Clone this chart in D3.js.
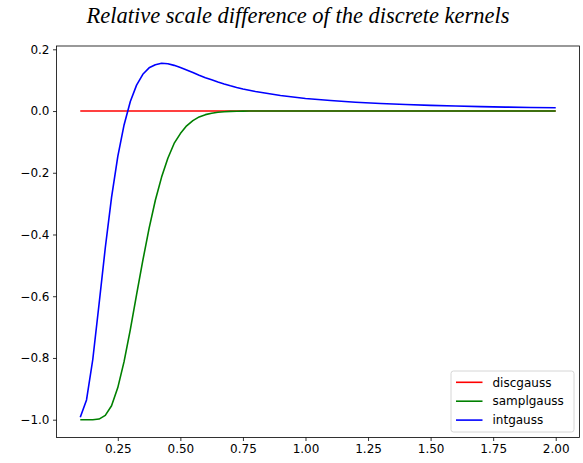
<!DOCTYPE html>
<html>
<head>
<meta charset="utf-8">
<script src="https://cdn.jsdelivr.net/npm/d3@7"></script>
<style>
  html, body { margin: 0; padding: 0; background: #fff; }
  svg { display: block; }
</style>
</head>
<body>
<svg id="chart" width="583" height="463"></svg>
<script>
// ---- data ----
const title = "Relative scale difference of the discrete kernels";
const scales = [0.1, 0.125, 0.15, 0.175, 0.2, 0.225, 0.25, 0.275, 0.3, 0.325, 0.35, 0.375, 0.4, 0.425, 0.45, 0.475,
  0.5, 0.525, 0.55, 0.575, 0.6, 0.625, 0.65, 0.675, 0.7, 0.725, 0.75, 0.775, 0.8,
  0.9, 1.0, 1.1, 1.2, 1.3, 1.4, 1.5, 1.6, 1.7, 1.8, 1.9, 2.0];
const discgauss = [0, 0, 0, 0, 0, 0, 0, 0, 0, 0, 0, 0, 0, 0, 0, 0,
  0, 0, 0, 0, 0, 0, 0, 0, 0, 0, 0, 0, 0,
  0, 0, 0, 0, 0, 0, 0, 0, 0, 0, 0, 0];
const samplgauss = [-1.0, -1.0, -1.0, -0.998, -0.986, -0.955, -0.896, -0.812, -0.708, -0.595, -0.484, -0.380, -0.289, -0.214, -0.153, -0.105,
  -0.073, -0.048, -0.031, -0.019, -0.0117, -0.007, -0.004, -0.0022, -0.0012, -0.0006, -0.0003, -0.0001, 0.0,
  0, 0, 0, 0, 0, 0, 0, 0, 0, 0, 0, 0];
const intgauss = [-0.992, -0.936, -0.805, -0.626, -0.443, -0.280, -0.147, -0.045, 0.031, 0.084, 0.119, 0.140, 0.150, 0.155, 0.153, 0.148,
  0.141, 0.133, 0.125, 0.116, 0.108, 0.101, 0.094, 0.0876, 0.0817, 0.0763, 0.0714, 0.0671, 0.0631,
  0.0502, 0.0408, 0.0339, 0.0285, 0.0244, 0.0210, 0.0184, 0.0161, 0.0143, 0.0128, 0.0115, 0.0104];
const seriesNames = ["discgauss", "samplgauss", "intgauss"];
const seriesColors = ["#ff0000", "#008000", "#0000ff"];
const xTicks = [0.25, 0.5, 0.75, 1.0, 1.25, 1.5, 1.75, 2.0];
const yTicks = [0.2, 0.0, -0.2, -0.4, -0.6, -0.8, -1.0];

// ---- layout ----
const svg = d3.select("#chart");
const mLeft = 56.5, mRight = 579.5, mTop = 46, mBottom = 437.5;

const x = d3.scaleLinear().domain([0.005, 2.095]).range([mLeft, mRight]);
const y = d3.scaleLinear().domain([-1.0577, 0.2107]).range([mBottom, mTop]);

// title
svg.append("text")
  .attr("x", 298).attr("y", 22.5)
  .attr("text-anchor", "middle")
  .style("font-family", "'Liberation Serif', 'Times New Roman', serif")
  .style("font-style", "italic")
  .style("font-size", "22.5px")
  .attr("fill", "#000")
  .text(title);

// lines
const allSeries = [discgauss, samplgauss, intgauss];
const line = d3.line().x((d, i) => x(scales[i])).y(d => y(d));
const plot = svg.append("g");
allSeries.forEach((vals, k) => {
  plot.append("path")
    .datum(vals)
    .attr("d", line)
    .attr("fill", "none")
    .attr("stroke", seriesColors[k])
    .attr("stroke-width", 1.6)
    .attr("stroke-linejoin", "round")
    .attr("stroke-linecap", "butt");
});

// axes
const fmtY = v => (v < 0 ? "\u2212" : "") + Math.abs(v).toFixed(1);
const xAxis = d3.axisBottom(x).tickValues(xTicks).tickFormat(d3.format(".2f")).tickSize(3.5).tickPadding(3.5);
const yAxis = d3.axisLeft(y).tickValues(yTicks).tickFormat(fmtY).tickSize(3.5).tickPadding(3.5);

const gx = svg.append("g").attr("transform", `translate(0,${mBottom})`).call(xAxis);
const gy = svg.append("g").attr("transform", `translate(${mLeft},0)`).call(yAxis);
[gx, gy].forEach(g => {
  g.select(".domain").remove();
  g.selectAll(".tick line").attr("stroke", "#000").attr("stroke-width", 0.8);
  g.selectAll(".tick text")
    .attr("fill", "#000")
    .style("font-family", "'DejaVu Sans', sans-serif")
    .style("font-size", "12px");
});

// frame
svg.append("rect")
  .attr("x", mLeft).attr("y", mTop)
  .attr("width", mRight - mLeft).attr("height", mBottom - mTop)
  .attr("fill", "none").attr("stroke", "#000").attr("stroke-width", 0.8);

// legend
const lg = svg.append("g");
lg.append("rect")
  .attr("x", 451).attr("y", 371).attr("width", 123).attr("height", 61)
  .attr("rx", 2.5).attr("ry", 2.5)
  .attr("fill", "#fff").attr("fill-opacity", 0.8)
  .attr("stroke", "#cccccc").attr("stroke-width", 0.8);
seriesNames.forEach((name, k) => {
  const yy = 382.3 + k * 18.9;
  lg.append("line")
    .attr("x1", 456).attr("x2", 482.5).attr("y1", yy).attr("y2", yy)
    .attr("stroke", seriesColors[k]).attr("stroke-width", 1.6);
  lg.append("text")
    .attr("x", 492.5).attr("y", yy).attr("dy", "0.35em")
    .style("font-family", "'DejaVu Sans', sans-serif")
    .style("font-size", "12px")
    .attr("fill", "#000")
    .text(name);
});
</script>
</body>
</html>
